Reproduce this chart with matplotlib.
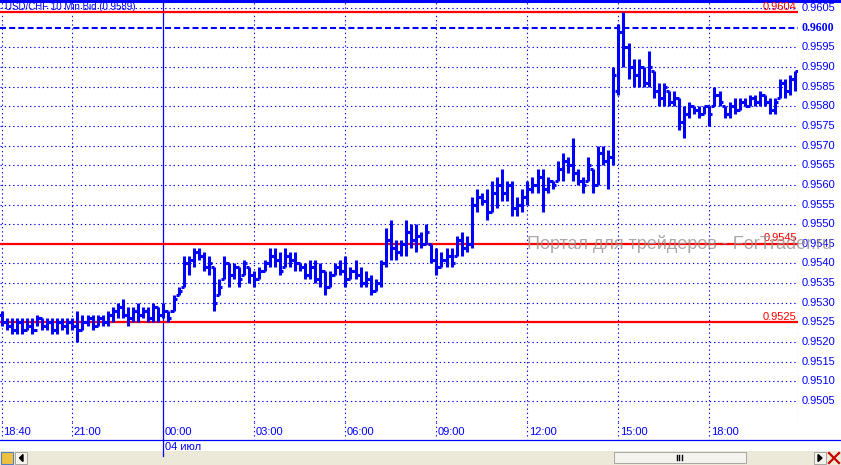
import matplotlib
matplotlib.use("Agg")
import matplotlib.pyplot as plt
import matplotlib.transforms as mtransforms
from matplotlib.patches import Rectangle
import numpy as np

# ---------------- data (prices in pips above 0.9500) ----------------
highs = [28, 26, 26, 26, 26, 26, 26, 27, 26, 26, 26, 26, 26, 26, 26, 28, 27, 27, 27, 27,
         27, 28, 29, 30, 31, 29, 29, 30, 29, 29, 30, 29, 30, 28, 32, 34, 42, 42, 44, 44,
         43, 42, 39, 36, 42, 40, 40, 39, 41, 39, 38, 39, 41, 44, 44, 43, 44, 43, 43, 40,
         40, 41, 41, 40, 38, 38, 40, 41, 42, 39, 41, 39, 38, 37, 36, 41, 49, 51, 46, 46,
         51, 50, 50, 48, 50, 45, 44, 43, 44, 44, 47, 48, 47, 57, 59, 58, 59, 61, 62, 64,
         61, 61, 57, 59, 61, 62, 64, 64, 62, 61, 66, 68, 67, 72, 64, 62, 67, 64, 70, 70,
         69, 90, 101, 104, 96, 92, 92, 90, 94, 89, 86, 86, 84, 84, 82, 80, 81, 80, 80, 80,
         80, 85, 84, 80, 81, 82, 82, 82, 83, 83, 84, 83, 82, 82, 87, 87, 88, 89]
lows = [24, 23, 22, 22, 22, 23, 22, 24, 23, 23, 22, 22, 23, 22, 23, 20, 23, 24, 23, 24,
        24, 24, 25, 26, 26, 24, 25, 25, 26, 25, 25, 25, 26, 25, 28, 32, 34, 37, 39, 41,
        38, 37, 28, 32, 36, 34, 36, 34, 37, 35, 34, 36, 38, 39, 39, 37, 39, 39, 38, 38,
        36, 36, 35, 34, 32, 34, 37, 37, 34, 36, 36, 34, 34, 32, 33, 34, 39, 41, 41, 42,
        42, 44, 43, 44, 45, 40, 37, 39, 39, 39, 42, 42, 43, 44, 53, 55, 51, 53, 54, 56,
        56, 52, 52, 53, 55, 58, 58, 53, 58, 59, 61, 61, 63, 61, 60, 58, 61, 58, 60, 65,
        59, 65, 83, 90, 87, 85, 85, 85, 85, 82, 80, 80, 80, 80, 74, 72, 77, 78, 77, 78,
        75, 80, 80, 77, 77, 78, 79, 80, 80, 80, 80, 80, 78, 78, 82, 82, 83, 84]
opens = [27, 25, 24, 23, 25, 23, 24, 23, 26, 24, 25, 23, 25, 24, 25, 24, 23, 25, 26, 24,
         26, 25, 27, 28, 29, 27, 26, 28, 27, 28, 26, 29, 27, 28, 28, 32, 34, 40, 41, 43,
         42, 39, 39, 32, 36, 40, 37, 39, 37, 39, 37, 36, 38, 40, 42, 41, 39, 42, 41, 40,
         39, 37, 39, 36, 38, 34, 37, 39, 38, 36, 38, 37, 35, 36, 33, 35, 40, 46, 44, 43,
         45, 48, 46, 47, 45, 45, 41, 39, 41, 42, 42, 46, 44, 45, 55, 57, 56, 53, 58, 60,
         58, 60, 54, 55, 57, 59, 60, 62, 59, 61, 61, 64, 66, 65, 63, 61, 61, 64, 60, 68,
         66, 67, 84, 99, 95, 90, 88, 90, 86, 89, 84, 82, 84, 81, 82, 76, 78, 80, 79, 78,
         80, 80, 83, 80, 78, 80, 79, 81, 80, 82, 81, 83, 81, 79, 82, 86, 84, 87]
closes = [25, 24, 23, 25, 23, 24, 23, 26, 24, 25, 23, 25, 24, 25, 24, 23, 25, 26, 24, 26,
          25, 27, 28, 29, 27, 26, 28, 27, 28, 26, 29, 27, 28, 26, 31, 33, 40, 41, 43, 42,
          39, 40, 30, 34, 40, 37, 39, 36, 40, 37, 36, 38, 40, 42, 41, 38, 42, 41, 40, 39,
          37, 39, 36, 38, 34, 37, 39, 38, 36, 38, 37, 35, 36, 33, 35, 40, 46, 44, 43, 45,
          48, 46, 47, 45, 48, 41, 39, 41, 42, 40, 46, 44, 45, 55, 57, 56, 53, 58, 60, 58,
          60, 54, 55, 57, 59, 60, 62, 59, 61, 60, 64, 66, 65, 63, 61, 60, 65, 60, 68, 66,
          67, 88, 99, 95, 90, 88, 90, 86, 90, 84, 82, 85, 81, 82, 76, 78, 80, 79, 78, 80,
          78, 83, 81, 78, 80, 79, 81, 80, 82, 81, 83, 81, 79, 81, 86, 84, 87, 89]

time_labels = ["18:40", "21:00", "00:00", "03:00", "06:00", "09:00", "12:00", "15:00", "18:00"]
time_label_bars = [0, 14, 32, 50, 68, 86, 104, 122, 140]
date_label = "04 июл"
level_prices = [0.9604, 0.9545, 0.9525]
bid_line = 0.9600
title = "USD/CHF 10 Min Bid (0.9589)"
watermark = "Портал для трейдеров - ForTrader.ru"
ytick_values = [0.9505, 0.9510, 0.9515, 0.9520, 0.9525, 0.9530, 0.9535, 0.9540, 0.9545,
                0.9550, 0.9555, 0.9560, 0.9565, 0.9570, 0.9575, 0.9580, 0.9585, 0.9590,
                0.9595, 0.9600, 0.9605]

BASE = 0.9500
PIP = 0.0001
to_price = lambda v: BASE + np.asarray(v, dtype=float) * PIP

H, L, O, C = to_price(highs), to_price(lows), to_price(opens), to_price(closes)
idx = np.arange(len(highs))

# ---------------- figure / geometry ----------------
W, HH = 841, 465
fig = plt.figure(figsize=(W / 100, HH / 100), dpi=100)
fig.patch.set_facecolor("white")
BLUE = "#0000FF"
RED = "#FF0000"
FONT = "Liberation Sans"

def fy(py):
    return 1 - py / HH

# background UI axes in pixel coords
ui = fig.add_axes([0, 0, 1, 1], zorder=0)
ui.set_xlim(0, W)
ui.set_ylim(HH, 0)
ui.axis("off")

PLOT_L, PLOT_R, PLOT_T, PLOT_B = 0, 798, 2, 422
ax = fig.add_axes([PLOT_L / W, fy(PLOT_B), (PLOT_R - PLOT_L) / W, (PLOT_B - PLOT_T) / HH], zorder=1)
ax.set_facecolor("none")
for s in ax.spines.values():
    s.set_visible(False)
ax.set_xticks([])
ax.set_yticks([])

px_per_bar = 5.056
x0_px = 1.6
ax.set_xlim((PLOT_L - x0_px) / px_per_bar, (PLOT_R - x0_px) / px_per_bar)
px_per_pip = 3.929
ytop = 0.9604 + (12 - PLOT_T) / px_per_pip * PIP
ybot = 0.9604 - (PLOT_B - 12) / px_per_pip * PIP
ax.set_ylim(ybot, ytop)

def bar_px(i):
    return x0_px + px_per_bar * i

DOT = (0, (1.2, 2.6))
# grid: horizontal dotted
for v in ytick_values:
    if abs(v - bid_line) < 1e-9:
        continue
    ax.axhline(v, color=BLUE, lw=0.8, linestyle=DOT, zorder=1)
# vertical dotted
for b in time_label_bars:
    if b == 32:
        continue
    ax.axvline(b, color=BLUE, lw=0.8, linestyle=DOT, zorder=1)
ax.axvline(ax.get_xlim()[1] - 0.05, color=BLUE, lw=0.8, linestyle=DOT, zorder=1)

# day separator (solid) from top to below date label
xs = bar_px(32)
ui.plot([xs, xs], [0, 456], color=BLUE, lw=0.9, zorder=2)

# bid dashed line
ax.axhline(bid_line, color=BLUE, lw=1.5, linestyle=(0, (2.9, 1.5)), zorder=2)

# red level lines
for lv in level_prices:
    ax.axhline(lv, color=RED, lw=1.6, zorder=3)

# OHLC bars
lw_bar = 2.2
ax.vlines(idx, L, H, color=BLUE, lw=lw_bar, zorder=4, capstyle="butt")
ax.hlines(O, idx - 0.6, idx, color=BLUE, lw=lw_bar, zorder=4, capstyle="butt")
ax.hlines(C, idx, idx + 0.6, color=BLUE, lw=lw_bar, zorder=4, capstyle="butt")

# red level labels
trans_lab = mtransforms.blended_transform_factory(ax.transAxes, ax.transData)
for lv in level_prices:
    ax.text(0.9985, lv + 0.1 * PIP, f"{lv:.4f}", transform=trans_lab, ha="right", va="bottom",
            color=RED, fontsize=8, family=FONT, zorder=6, clip_on=False)

# y tick labels on the right
for v in ytick_values:
    if abs(v - bid_line) < 1e-9:
        ax.text(1.004, v, f"{v:.4f}", transform=trans_lab, ha="left", va="center",
                color=BLUE, fontsize=8.5, family="Liberation Serif", fontweight="bold",
                clip_on=False)
    else:
        ax.text(1.004, v, f"{v:.4f}", transform=trans_lab, ha="left", va="center",
                color=BLUE, fontsize=8, family=FONT, clip_on=False)

# watermark
ax.text((527 - x0_px) / px_per_bar, 0.9604 - (244 - 12) / px_per_pip * PIP, watermark,
        ha="left", va="center", color="#9a9090", alpha=0.8, fontsize=13, family=FONT,
        zorder=7, clip_on=False)

# title
ui.text(5, 6.5, title, ha="left", va="center", color=BLUE, fontsize=7, family=FONT, zorder=5)

# top border
ui.plot([0, W], [0.8, 0.8], color=BLUE, lw=2.2, zorder=5)

# time labels band
trans_time = mtransforms.blended_transform_factory(ax.transData, fig.transFigure)
for lab, b in zip(time_labels, time_label_bars):
    ax.text(b + 0.3, fy(432), lab, transform=trans_time, ha="left", va="center",
            color=BLUE, fontsize=8, family=FONT, clip_on=False)
    ui.plot([bar_px(b), bar_px(b)], [422, 439], color=BLUE, lw=0.8, linestyle=DOT, zorder=2)
ax.text(32 + 0.3, fy(446.5), date_label, transform=trans_time, ha="left", va="center",
        color=BLUE, fontsize=8, family=FONT, clip_on=False)
ui.plot([0, W], [439.5, 439.5], color=BLUE, lw=0.9, zorder=2)

# bottom scrollbar strip
ui.add_patch(Rectangle((0, 451), W, HH - 451, facecolor="#ECE9D8", edgecolor="none", zorder=1))
ui.add_patch(Rectangle((15, 452), 12, 12, facecolor="#F4F3EE", edgecolor="#9a9a9a", lw=0.6, zorder=2))
ui.fill([23, 19.5, 23], [454.5, 458, 461.5], color="black", zorder=3)
ui.add_patch(Rectangle((1, 452), 12, 12, facecolor="#f0c040", edgecolor="#5080c0", lw=0.8, zorder=2))
ui.add_patch(Rectangle((614, 452), 132, 11, facecolor="#F4F3EE", edgecolor="#9a9a9a", lw=0.6, zorder=2))
for gx in (677, 679.5, 682):
    ui.plot([gx, gx], [455, 460], color="black", lw=1.0, zorder=3)
ui.add_patch(Rectangle((814, 452), 12, 12, facecolor="#F4F3EE", edgecolor="#9a9a9a", lw=0.6, zorder=2))
ui.fill([818, 822, 818], [454.5, 458, 461.5], color="black", zorder=3)
ui.plot([829, 839], [453, 463], color="#cc0000", lw=1.6, zorder=3)
ui.plot([829, 839], [463, 453], color="#cc0000", lw=1.6, zorder=3)

fig.savefig("out.png", dpi=100, facecolor="white")
